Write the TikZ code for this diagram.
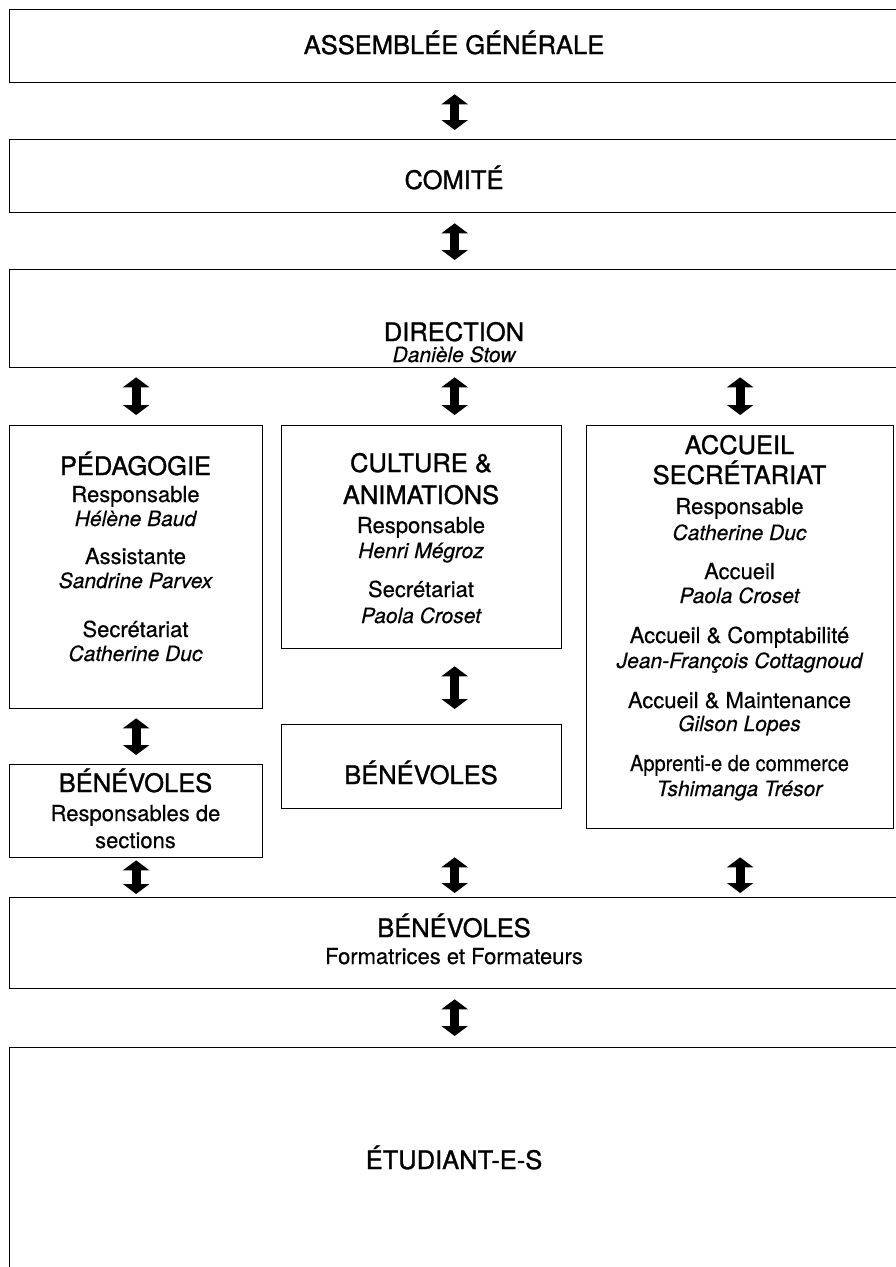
\documentclass[tikz,border=0pt]{standalone}
\usepackage{fontspec}
\usepackage{graphicx}
\setmainfont{TeX Gyre Heros}[FakeBold=0.4]
\newfontfamily\ttlfont{TeX Gyre Heros}[FakeBold=1.2]
\usetikzlibrary{arrows.meta}
\tikzset{
 box/.style={draw=black, line width=1.3pt, anchor=north west, inner sep=0pt, rectangle},
 ttl/.style={font=\ttlfont\fontsize{25.5}{28}\selectfont, anchor=base, inner sep=0pt},
 txt/.style={font=\fontsize{22}{26}\selectfont, anchor=base, inner sep=0pt},
 nm/.style={font=\fontsize{21}{26}\selectfont\itshape, anchor=base, inner sep=0pt},
 tipb/.tip={Triangle[length=10pt 0 0,width=26pt 0 0]},
 biarr/.style={line width=9pt, tipb-tipb}
}
\begin{document}
\begin{tikzpicture}[x=1pt,y=-1pt]
\path[use as bounding box, clip] (0,0) rectangle (896,1267);
% boxes
\node[box, minimum width=890, minimum height=73] (ag) at (9,9) {};
\node[box, minimum width=890, minimum height=73] (com) at (9,139) {};
\node[box, minimum width=890, minimum height=98] (dir) at (9,269) {};
\node[box, minimum width=253, minimum height=283] (ped) at (9,425) {};
\node[box, minimum width=280, minimum height=223] (cult) at (281,425) {};
\node[box, minimum width=307, minimum height=403] (acc) at (586,425) {};
\node[box, minimum width=253, minimum height=93] (benl) at (9,764) {};
\node[box, minimum width=280, minimum height=84] (benm) at (281,724) {};
\node[box, minimum width=890, minimum height=91] (benw) at (9,897) {};
\node[box, minimum width=890, minimum height=230] (etu) at (9,1047) {};
% texts
\node[ttl] (agT) at (454,54) {ASSEMBLÉE GÉNÉRALE};
\node[ttl] (comT) at (454,189) {COMITÉ};
\node[ttl] (dirT) at (454,341) {DIRECTION};
\node[nm] (dirN) at (454,362) {Danièle Stow};
% pedagogie
\node[ttl] (pedT) at (135.5,475) {PÉDAGOGIE};
\node[txt] (ped1) at (135.5,502) {Responsable};
\node[nm] (ped2) at (135.5,526) {Hélène Baud};
\node[txt] (ped3) at (135.5,564) {Assistante};
\node[nm] (ped4) at (135.5,588) {Sandrine Parvex};
\node[txt] (ped5) at (135.5,637) {Secrétariat};
\node[nm] (ped6) at (135.5,661) {Catherine Duc};
% benevoles left
\node[ttl] (benlT) at (135.5,792) {BÉNÉVOLES};
\node[txt] (benl1) at (135.5,821) {Responsables de};
\node[txt] (benl2) at (135.5,848) {sections};
% culture
\node[ttl] (cultT1) at (421,472) {CULTURE \&};
\node[ttl] (cultT2) at (421,504) {ANIMATIONS};
\node[txt] (cult1) at (421,533) {Responsable};
\node[nm] (cult2) at (421,558) {Henri Mégroz};
\node[txt] (cult3) at (421,597) {Secrétariat};
\node[nm] (cult4) at (421,623) {Paola Croset};
\node[ttl] (benmT) at (421,784) {BÉNÉVOLES};
% accueil
\node[ttl] (accT1) at (739.5,454) {ACCUEIL};
\node[ttl] (accT2) at (739.5,484) {SECRÉTARIAT};
\node[txt] (acc1) at (739.5,514) {Responsable};
\node[nm] (acc2) at (739.5,540) {Catherine Duc};
\node[txt] (acc3) at (739.5,579) {Accueil};
\node[nm] (acc4) at (739.5,603) {Paola Croset};
\node[txt] (acc5) at (739.5,643) {Accueil \& Comptabilité};
\node[nm] (acc6) at (739.5,668) {Jean-François Cottagnoud};
\node[txt] (acc7) at (739.5,708) {Accueil \& Maintenance};
\node[nm] (acc8) at (739.5,731) {Gilson Lopes};
\node[txt] (acc9) at (739.5,771) {\scalebox{0.91}[1]{Apprenti-e de commerce}};
\node[nm] (acc10) at (739.5,796) {Tshimanga Trésor};
% wide benevoles
\node[ttl] (benwT) at (454,937) {BÉNÉVOLES};
\node[txt] (benw1) at (454,964) {Formatrices et Formateurs};
\node[ttl] (etuT) at (454,1169) {ÉTUDIANT-E-S};
% arrows
\draw[biarr, shorten <=11pt, shorten >=9pt] (ag.south) -- (com.north);
\draw[biarr, shorten <=10pt, shorten >=9pt] (com.south) -- (dir.north);
\draw[biarr, shorten <=9pt, shorten >=10pt] (dir.south -| ped.north) -- (ped.north);
\draw[biarr, shorten <=9pt, shorten >=10pt] (dir.south) -- (dir.south |- cult.north);
\draw[biarr, shorten <=9pt, shorten >=10pt] (dir.south -| acc.north) -- (acc.north);
\draw[biarr, shorten <=9pt, shorten >=9pt] (ped.south) -- (benl.north);
\draw[biarr, shorten <=17pt, shorten >=15pt] (cult.south -| ag.south) -- (benm.north -| ag.south);
\draw[biarr, shorten <=2pt, shorten >=3pt] (benl.south) -- (benw.north -| benl.south);
\draw[biarr, shorten <=48pt, shorten >=4pt] (benm.south -| benw.north) -- (benw.north);
\draw[biarr, shorten <=28pt, shorten >=4pt] (acc.south) -- (benw.north -| acc.south);
\draw[biarr, shorten <=10pt, shorten >=11pt] (benw.south) -- (etu.north);
\end{tikzpicture}
\end{document}
